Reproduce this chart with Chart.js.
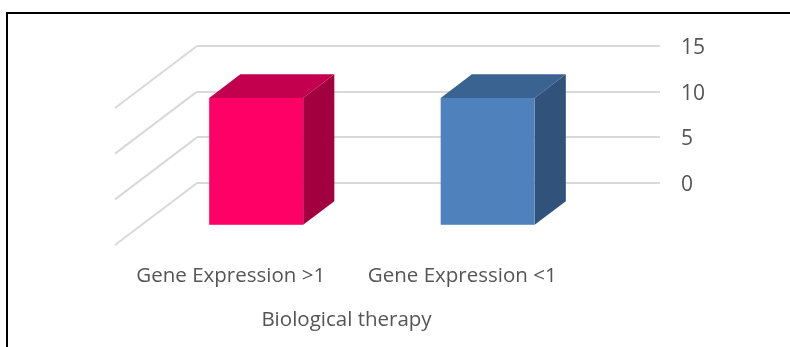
<!DOCTYPE html>
<html>
<head>
<meta charset="utf-8">
<script src="https://cdn.jsdelivr.net/npm/chart.js@4/dist/chart.umd.min.js"></script>
<style>
  body { margin: 0; background: #fff; }
  #wrap { position: relative; width: 790px; height: 347px; overflow: hidden; }
  #frame { position: absolute; left: 6px; top: 12px; width: 800px; height: 400px;
           border-left: 2px solid #000; border-top: 2px solid #000; }
  canvas { position: absolute; left: 0; top: 0; }
</style>
</head>
<body>
<div id="wrap">
  <div id="frame"></div>
  <canvas id="chart" width="790" height="347"></canvas>
</div>
<script>
const categories = ['Gene Expression >1', 'Gene Expression <1'];
const counts = [14, 14];
const yTicks = [0, 5, 10, 15];
const axisTitle = 'Biological therapy';
const frontColors = ['#FF0066', '#4F81BD'];
const topColors = ['#C2004D', '#3A6391'];
const sideColors = ['#A3003F', '#31527A'];

// oblique depth of the plot (back wall -> front edge)
const depth = { x: -82, y: 62 };
const backFrac = 0.31, frontFrac = 0.69;
const textColor = '#555555';
const fontFamily = '"Open Sans", "Noto Sans", sans-serif';

const floorPlugin = {
    id: 'floor',
    beforeDatasetsDraw(chart) {
        const ctx = chart.ctx;
        const y = chart.scales.y;
        const left = chart.chartArea.left;
        ctx.save();
        ctx.strokeStyle = '#d9d9d9';
        ctx.lineWidth = 2;
        yTicks.forEach(v => {
            const py = y.getPixelForValue(v);
            ctx.beginPath();
            ctx.moveTo(left, py);
            ctx.lineTo(left + depth.x, py + depth.y);
            ctx.stroke();
        });
        ctx.restore();
    },
    afterDatasetsDraw(chart) {
        const ctx = chart.ctx;
        const meta = chart.getDatasetMeta(0);
        const b = { x: depth.x * backFrac, y: depth.y * backFrac };
        const f = { x: depth.x * frontFrac, y: depth.y * frontFrac };
        ctx.save();
        meta.data.forEach((bar, i) => {
            const l = bar.x - bar.width / 2, r = bar.x + bar.width / 2;
            const t = bar.y, bot = bar.base;
            // top face
            ctx.fillStyle = topColors[i];
            ctx.beginPath();
            ctx.moveTo(l + f.x, t + f.y);
            ctx.lineTo(r + f.x, t + f.y);
            ctx.lineTo(r + b.x, t + b.y);
            ctx.lineTo(l + b.x, t + b.y);
            ctx.closePath();
            ctx.fill();
            // side face
            ctx.fillStyle = sideColors[i];
            ctx.beginPath();
            ctx.moveTo(r + f.x, t + f.y);
            ctx.lineTo(r + b.x, t + b.y);
            ctx.lineTo(r + b.x, bot + b.y);
            ctx.lineTo(r + f.x, bot + f.y);
            ctx.closePath();
            ctx.fill();
            // front face
            ctx.fillStyle = frontColors[i];
            ctx.fillRect(l + f.x, t + f.y, r - l, bot - t);
        });
        ctx.restore();
    },
    afterDraw(chart) {
        // axis title centred under the front edge of the floor
        const ctx = chart.ctx;
        const area = chart.chartArea;
        ctx.save();
        ctx.fillStyle = textColor;
        ctx.font = '20.5px ' + fontFamily;
        ctx.textAlign = 'center';
        ctx.textBaseline = 'middle';
        ctx.fillText(axisTitle, (area.left + area.right) / 2 + depth.x, 320);
        ctx.restore();
    }
};

new Chart(document.getElementById('chart'), {
    type: 'bar',
    data: {
        labels: categories,
        datasets: [{
            data: counts,
            backgroundColor: 'rgba(0,0,0,0)',
            borderWidth: 0,
            barPercentage: 0.406,
            categoryPercentage: 1
        }]
    },
    options: {
        responsive: false,
        animation: false,
        layout: { padding: { left: 197, top: 46, right: 0, bottom: 0 } },
        plugins: { legend: { display: false }, tooltip: { enabled: false } },
        scales: {
            x: {
                grid: { display: false },
                border: { display: false },
                ticks: {
                    color: textColor,
                    font: { size: 20.5, family: fontFamily },
                    labelOffset: depth.x,
                    padding: 73,
                    maxRotation: 0
                },
                afterFit(axis) { axis.height = 164; }
            },
            y: {
                position: 'right',
                min: 0,
                max: 15,
                afterBuildTicks(axis) { axis.ticks = yTicks.map(v => ({ value: v })); },
                grid: { color: '#d9d9d9', lineWidth: 2, drawTicks: false },
                border: { display: false },
                ticks: {
                    color: textColor,
                    font: { size: 21, family: fontFamily },
                    padding: 21,
                    labelOffset: 2
                },
                afterFit(axis) { axis.width = 130; }
            }
        }
    },
    plugins: [floorPlugin]
});
</script>
</body>
</html>
